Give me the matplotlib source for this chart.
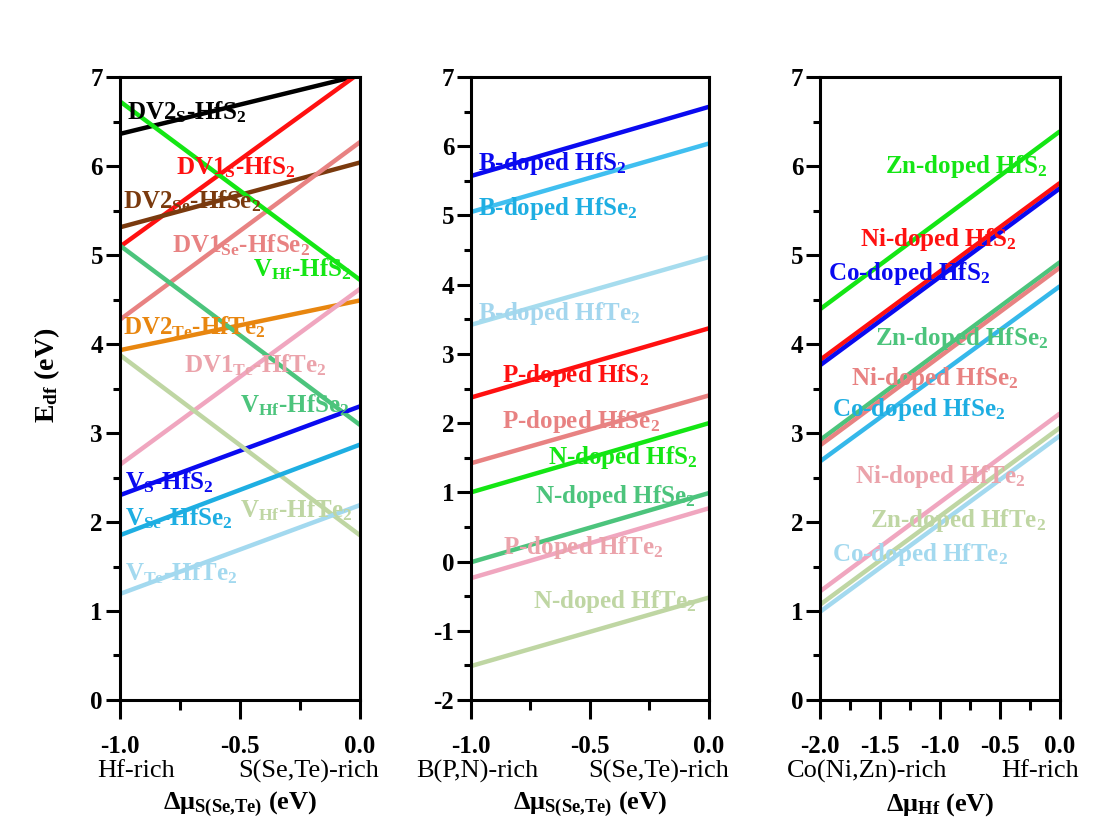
import matplotlib.pyplot as plt
from matplotlib.ticker import MultipleLocator, FormatStrFormatter

plt.rcParams['font.family'] = ['Liberation Serif', 'DejaVu Serif']
plt.rcParams['font.weight'] = 'bold'
plt.rcParams['axes.unicode_minus'] = False
plt.rcParams['mathtext.fontset'] = 'custom'
plt.rcParams['mathtext.rm'] = 'Liberation Serif:bold'
plt.rcParams['mathtext.bf'] = 'Liberation Serif:bold'
plt.rcParams['mathtext.it'] = 'Liberation Serif:bold:italic'

# ---- data: formation energy at the two ends of the chemical potential range ----
# panel 1: vacancies, x from -1.0 (Hf-rich) to 0.0 (S(Se,Te)-rich)
vac_names = [r'DV2$_{\mathbf{S}}$-HfS$_{\mathbf{2}}$', r'DV1$_{\mathbf{S}}$-HfS$_{\mathbf{2}}$',
             r'DV2$_{\mathbf{Se}}$-HfSe$_{\mathbf{2}}$', r'DV1$_{\mathbf{Se}}$-HfSe$_{\mathbf{2}}$',
             r'V$_{\mathbf{Hf}}$-HfS$_{\mathbf{2}}$', r'DV2$_{\mathbf{Te}}$-HfTe$_{\mathbf{2}}$',
             r'DV1$_{\mathbf{Te}}$-HfTe$_{\mathbf{2}}$', r'V$_{\mathbf{Hf}}$-HfSe$_{\mathbf{2}}$',
             r'V$_{\mathbf{S}}$-HfS$_{\mathbf{2}}$', r'V$_{\mathbf{Hf}}$-HfTe$_{\mathbf{2}}$',
             r'V$_{\mathbf{Se}}$-HfSe$_{\mathbf{2}}$', r'V$_{\mathbf{Te}}$-HfTe$_{\mathbf{2}}$']
vac_left = [6.36, 5.09, 5.31, 4.27, 6.73, 3.93, 2.64, 5.11, 2.30, 3.88, 1.85, 1.19]
vac_right = [7.02, 7.05, 6.04, 6.27, 4.72, 4.49, 4.62, 3.09, 3.30, 1.85, 2.87, 2.19]

# panel 2: B/P/N doping, x from -1.0 to 0.0
dop_names = [r'B-doped HfS$_{\mathbf{2}}$', r'B-doped HfSe$_{\mathbf{2}}$', r'B-doped HfTe$_{\mathbf{2}}$',
             r'P-doped HfS$_{\mathbf{2}}$', r'P-doped HfSe$_{\mathbf{2}}$', r'N-doped HfS$_{\mathbf{2}}$',
             r'N-doped HfSe$_{\mathbf{2}}$', r'P-doped HfTe$_{\mathbf{2}}$', r'N-doped HfTe$_{\mathbf{2}}$']
dop_left = [5.57, 5.05, 3.42, 2.37, 1.42, 1.00, -0.01, -0.24, -1.51]
dop_right = [6.57, 6.04, 4.40, 3.37, 2.40, 2.00, 0.99, 0.77, -0.52]

# panel 3: Co/Ni/Zn doping, x from -2.0 to 0.0
tm_names = [r'Zn-doped HfS$_{\mathbf{2}}$', r'Ni-doped HfS$_{\mathbf{2}}$', r'Co-doped HfS$_{\mathbf{2}}$',
            r'Zn-doped HfSe$_{\mathbf{2}}$', r'Ni-doped HfSe$_{\mathbf{2}}$', r'Co-doped HfSe$_{\mathbf{2}}$',
            r'Ni-doped HfTe$_{\mathbf{2}}$', r'Zn-doped HfTe$_{\mathbf{2}}$', r'Co-doped HfTe$_{\mathbf{2}}$']
tm_left = [4.39, 3.82, 3.76, 2.92, 2.86, 2.68, 1.22, 1.07, 0.99]
tm_right = [6.39, 5.81, 5.75, 4.92, 4.86, 4.65, 3.22, 3.06, 2.97]

x_ranges = [(-1.0, 0.0), (-1.0, 0.0), (-2.0, 0.0)]
y_ranges = [(0, 7), (-2, 7), (0, 7)]
end_labels = [('Hf-rich', 'S(Se,Te)-rich'), ('B(P,N)-rich', 'S(Se,Te)-rich'), ('Co(Ni,Zn)-rich', 'Hf-rich')]
x_titles = [r'$\mathbf{\Delta\mu_{S(Se{,}Te)}}$ (eV)', r'$\mathbf{\Delta\mu_{S(Se{,}Te)}}$ (eV)',
            r'$\mathbf{\Delta\mu_{Hf}}$ (eV)']

# ---- styles ----
black, red, brown, salmon = '#000000', '#ff1010', '#7a3a0e', '#e88282'
lime, sea, orange, pink = '#14e614', '#4cc47c', '#e8860f', '#f0a6bf'
olive, blue, sky, pale = '#bfd6a3', '#0a0af0', '#1eaee2', '#a3d9ef'

vac_colors = [black, red, brown, salmon, lime, orange, pink, sea, blue, olive, sky, pale]
vac_text_colors = [black, red, brown, salmon, lime, orange, '#eba3ab', sea, blue, olive, sky, pale]
vac_pos = [(-0.97, 6.61), (-0.765, 5.99), (-0.987, 5.60), (-0.78, 5.11), (-0.445, 4.84), (-0.985, 4.19),
           (-0.73, 3.76), (-0.50, 3.31), (-0.977, 2.45), (-0.50, 2.13), (-0.977, 2.04), (-0.977, 1.43)]

dop_colors = [blue, '#40bff0', '#a6dcee', red, salmon, lime, sea, pink, olive]
dop_text_colors = [blue, sky, '#a3d6ee', red, salmon, lime, sea, '#eba3ab', olive]
dop_pos = [(-0.97, 5.75), (-0.97, 5.10), (-0.97, 3.59), (-0.87, 2.69), (-0.87, 2.02),
           (-0.675, 1.51), (-0.73, 0.935), (-0.865, 0.21), (-0.74, -0.58)]

tm_colors = [lime, red, blue, sea, salmon, '#35b8ea', pink, olive, pale]
tm_text_colors = [lime, red, blue, sea, salmon, sky, '#eba3ab', olive, pale]
tm_pos = [(-1.46, 5.99), (-1.67, 5.17), (-1.93, 4.79), (-1.54, 4.06), (-1.74, 3.61),
          (-1.90, 3.26), (-1.71, 2.51), (-1.58, 2.02), (-1.90, 1.63)]

panels = [(vac_names, vac_left, vac_right, vac_colors, vac_text_colors, vac_pos),
          (dop_names, dop_left, dop_right, dop_colors, dop_text_colors, dop_pos),
          (tm_names, tm_left, tm_right, tm_colors, tm_text_colors, tm_pos)]

fig = plt.figure(figsize=(11.1, 8.24), dpi=100)
lefts = [0.1077, 0.4243, 0.7387]
widths = [0.2167, 0.2144, 0.2162]
end_x = [(-0.094, 1.08), (-0.23, 1.084), (-0.1375, 1.08)]

for i, (names, yl, yr, cols, tcols, pos) in enumerate(panels):
    ax = fig.add_axes([lefts[i], 0.1505, widths[i], 0.756])
    x0, x1 = x_ranges[i]
    for a, b, c in zip(yl, yr, cols):
        ax.plot([x0, x1], [a, b], color=c, lw=3.2, solid_capstyle='butt', zorder=2)
    for n, c, (tx, ty) in zip(names, tcols, pos):
        ax.text(tx, ty, n, color=c, fontsize=18, fontweight='bold', ha='left', va='center', zorder=3)

    ax.set_xlim(x0, x1)
    ax.set_ylim(*y_ranges[i])
    ax.xaxis.set_major_locator(MultipleLocator(0.5))
    ax.xaxis.set_minor_locator(MultipleLocator(0.25))
    ax.xaxis.set_major_formatter(FormatStrFormatter('%.1f'))
    ax.yaxis.set_major_locator(MultipleLocator(1))
    ax.yaxis.set_minor_locator(MultipleLocator(0.5))
    ax.tick_params(axis='x', which='major', length=14, width=2.2, pad=11, labelsize=18, direction='out')
    ax.tick_params(axis='x', which='minor', length=7, width=2.2, direction='out')
    ax.tick_params(axis='y', which='major', length=10, width=2.2, pad=2, labelsize=18, direction='out')
    ax.tick_params(axis='y', which='minor', length=5, width=2.2, direction='out')
    for s in ax.spines.values():
        s.set_linewidth(2.2)

    lo, hi = end_labels[i]
    ax.text(end_x[i][0], -0.114, lo, transform=ax.transAxes, ha='left', va='center',
            fontsize=19, fontweight='normal')
    ax.text(end_x[i][1], -0.114, hi, transform=ax.transAxes, ha='right', va='center',
            fontsize=19, fontweight='normal')
    ax.text(0.5, -0.168, x_titles[i], transform=ax.transAxes, ha='center', va='center',
            fontsize=19, fontweight='bold')

fig.text(47 / 1110, 1 - 375 / 824, r'E$_{\mathbf{df}}$ (eV)', rotation=90, ha='center', va='center',
         fontsize=20, fontweight='bold')

fig.savefig('out.png', dpi=100)
